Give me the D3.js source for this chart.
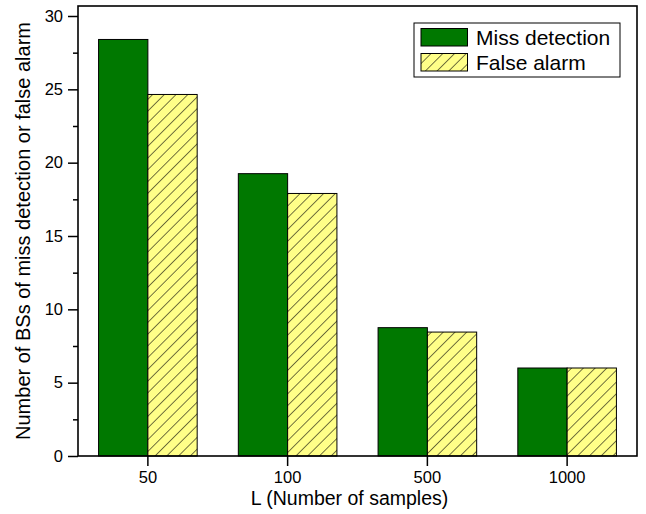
<!DOCTYPE html>
<meta charset="utf-8">
<style>
body { margin: 0; background: #fff; }
text { font-family: Arial, "Liberation Sans", sans-serif; fill: #000; }
</style>
<body>
<script src="https://d3js.org/d3.v7.min.js"></script>
<script>
// data
var categories = ["50", "100", "500", "1000"];
var missDetection = [28.4, 19.25, 8.75, 6.0];
var falseAlarm = [24.65, 17.9, 8.45, 6.0];
var yTicks = [0, 5, 10, 15, 20, 25, 30];
var seriesNames = ["Miss detection", "False alarm"];

var W = 646, H = 514;
var pLeft = 78, pRight = 637, pTop = 6, pBottom = 456;

var svg = d3.select("body").append("svg")
    .attr("width", W)
    .attr("height", H);

// hatch pattern for the yellow bars
var defs = svg.append("defs");
var pat = defs.append("pattern")
    .attr("id", "hatch")
    .attr("patternUnits", "userSpaceOnUse")
    .attr("width", 8.3)
    .attr("height", 8.3)
    .attr("patternTransform", "rotate(45)");
pat.append("rect").attr("width", 8.3).attr("height", 8.3).attr("fill", "#ffff88");
pat.append("line")
    .attr("x1", 0).attr("y1", 0).attr("x2", 0).attr("y2", 8.3)
    .attr("stroke", "#000").attr("stroke-width", 1.1);

var x = d3.scaleBand().domain(categories).range([pLeft, pRight]).padding(0);
var y = d3.scaleLinear().domain([0, 30]).range([pBottom, 16]);
var barW = 49.3;

var g = svg.append("g");

// bars
g.selectAll(".miss").data(missDetection).enter().append("rect")
    .attr("class", "miss")
    .attr("x", function(d, i) { return x(categories[i]) + x.bandwidth() / 2 - barW; })
    .attr("y", function(d) { return y(d); })
    .attr("width", barW)
    .attr("height", function(d) { return y(0) - y(d); })
    .attr("fill", "#007800")
    .attr("stroke", "#000")
    .attr("stroke-width", 1);

g.selectAll(".fa").data(falseAlarm).enter().append("rect")
    .attr("class", "fa")
    .attr("x", function(d, i) { return x(categories[i]) + x.bandwidth() / 2; })
    .attr("y", function(d) { return y(d); })
    .attr("width", barW)
    .attr("height", function(d) { return y(0) - y(d); })
    .attr("fill", "url(#hatch)")
    .attr("stroke", "#000")
    .attr("stroke-width", 1);

// frame
svg.append("rect")
    .attr("x", pLeft).attr("y", pTop)
    .attr("width", pRight - pLeft).attr("height", pBottom - pTop)
    .attr("fill", "none").attr("stroke", "#000").attr("stroke-width", 1.6);

// y axis: major + minor ticks
svg.append("g").attr("transform", "translate(" + pLeft + ",0)")
    .call(d3.axisLeft(y).tickValues(yTicks).tickSize(10).tickPadding(5));
var minor = d3.range(2.5, 30, 5);
svg.append("g").attr("transform", "translate(" + pLeft + ",0)")
    .call(d3.axisLeft(y).tickValues(minor).tickSize(5).tickFormat(""));

// x axis
svg.append("g").attr("transform", "translate(0," + pBottom + ")")
    .call(d3.axisBottom(x).tickSize(10).tickPadding(5.5));

svg.selectAll(".domain").remove();
svg.selectAll(".tick line").attr("stroke", "#000").attr("stroke-width", 1.5);
svg.selectAll(".tick text").attr("font-size", 16.5).attr("fill", "#000")
    .attr("font-family", "Arial, 'Liberation Sans', sans-serif");

// axis titles
svg.append("text")
    .attr("x", (pLeft + pRight) / 2 - 8)
    .attr("y", 505)
    .attr("text-anchor", "middle")
    .attr("font-size", 19.5)
    .text("L (Number of samples)");

svg.append("text")
    .attr("transform", "translate(30," + ((pTop + pBottom) / 2) + ") rotate(-90)")
    .attr("text-anchor", "middle")
    .attr("font-size", 20)
    .text("Number of BSs of miss detection or false alarm");

// legend
var lg = svg.append("g").attr("transform", "translate(414,23)");
lg.append("rect").attr("width", 206).attr("height", 54)
    .attr("fill", "#fff").attr("stroke", "#000").attr("stroke-width", 1);
var fills = ["#007800", "url(#hatch)"];
seriesNames.forEach(function(name, i) {
    lg.append("rect")
        .attr("x", 7).attr("y", 5.5 + i * 25)
        .attr("width", 46.5).attr("height", 17.5)
        .attr("fill", fills[i]).attr("stroke", "#000").attr("stroke-width", 1);
    lg.append("text")
        .attr("x", 62).attr("y", 22 + i * 25)
        .attr("font-size", 21)
        .text(name);
});
</script>
</body>
